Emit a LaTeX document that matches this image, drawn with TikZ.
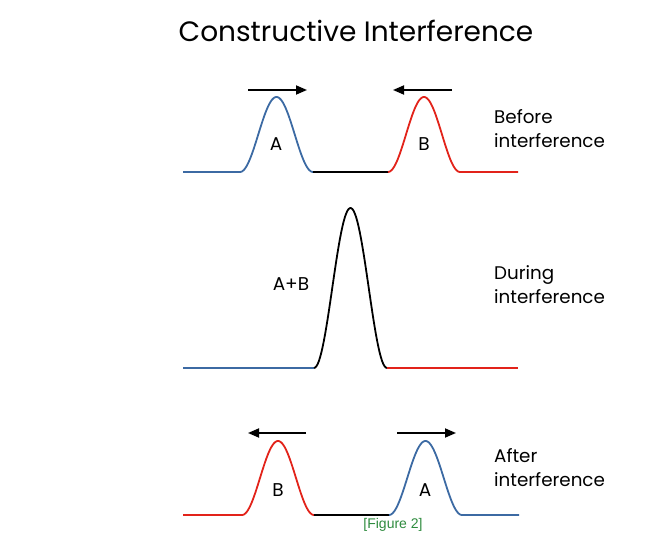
\documentclass[tikz,border=0pt]{standalone}
\usepackage{fontspec}
\setmainfont{Poppins}
\newfontfamily\figfont{Liberation Sans}
\usetikzlibrary{arrows.meta}
\definecolor{wblue}{HTML}{3C6AA3}
\definecolor{wred}{HTML}{E2231A}
\definecolor{figgreen}{HTML}{2E8B3E}
\tikzset{
  wave/.style={line width=1.8pt, line join=round},
  mover/.style={line width=1.8pt, -{Triangle[length=11pt,width=9pt]}},
  lbl/.style={font=\fontsize{18.5}{20}\selectfont, inner sep=0pt},
  side/.style={font=\fontsize{18.3}{24}\selectfont, align=left, anchor=west, inner sep=0pt},
}
\begin{document}
\begin{tikzpicture}[x=1pt,y=-1pt]
\useasboundingbox (0,0) rectangle (665,559);
\node[font=\fontsize{28}{32}\selectfont] (title) at (356,31) {Constructive Interference};

% Row 1: before
\draw[wave, wblue] (183,172) -- (240,172)
  plot[domain=-36.5:36.5, samples=60] ({276.5+\x},{172-75*(1+cos(\x*180/36.5))/2});
\draw[wave, black] (313,172) -- (388,172);
\draw[wave, wred] (388,172)
  plot[domain=-36:36, samples=60] ({424+\x},{172-75*(1+cos(\x*5))/2}) -- (518,172);
\coordinate (a1s) at (248,90); \coordinate (a1e) at (307,90);
\coordinate (b1s) at (452,90); \coordinate (b1e) at (393,90);
\draw[mover] (a1s) -- (a1e);
\draw[mover] (b1s) -- (b1e);
\node[lbl] (A1) at (276,144) {A};
\node[lbl] (B1) at (424,144) {B};
\node[side] (before) at (494,129) {Before\\interference};

% Row 2: during
\draw[wave, wblue] (183,368) -- (314,368);
\draw[wave, black] (314,368)
  plot[domain=-36.5:36.5, samples=60] ({350.5+\x},{368-160*(1+cos(\x*180/36.5))/2});
\draw[wave, wred] (387,368) -- (518,368);
\node[lbl] (AB) at (291,284) {A+B};
\node[side] (during) at (494,285) {During\\interference};

% Row 3: after
\draw[wave, wred] (183,515) -- (242,515)
  plot[domain=-36:36, samples=60] ({278+\x},{515-74*(1+cos(\x*5))/2});
\draw[wave, black] (314,515) -- (389,515);
\draw[wave, wblue] (389,515)
  plot[domain=-36.5:36.5, samples=60] ({425.5+\x},{515-74*(1+cos(\x*180/36.5))/2}) -- (519,515);
\coordinate (b3s) at (306,433); \coordinate (b3e) at (248,433);
\coordinate (a3s) at (397,433); \coordinate (a3e) at (456,433);
\draw[mover] (b3s) -- (b3e);
\draw[mover] (a3s) -- (a3e);
\node[lbl] (B3) at (278,490) {B};
\node[lbl] (A3) at (425,490) {A};
\node[side] (after) at (494,468) {After\\interference};

\node[font=\figfont\fontsize{14}{16}\selectfont, text=figgreen, inner sep=0pt] (fig) at (393,525) {[Figure 2]};
\end{tikzpicture}
\end{document}
